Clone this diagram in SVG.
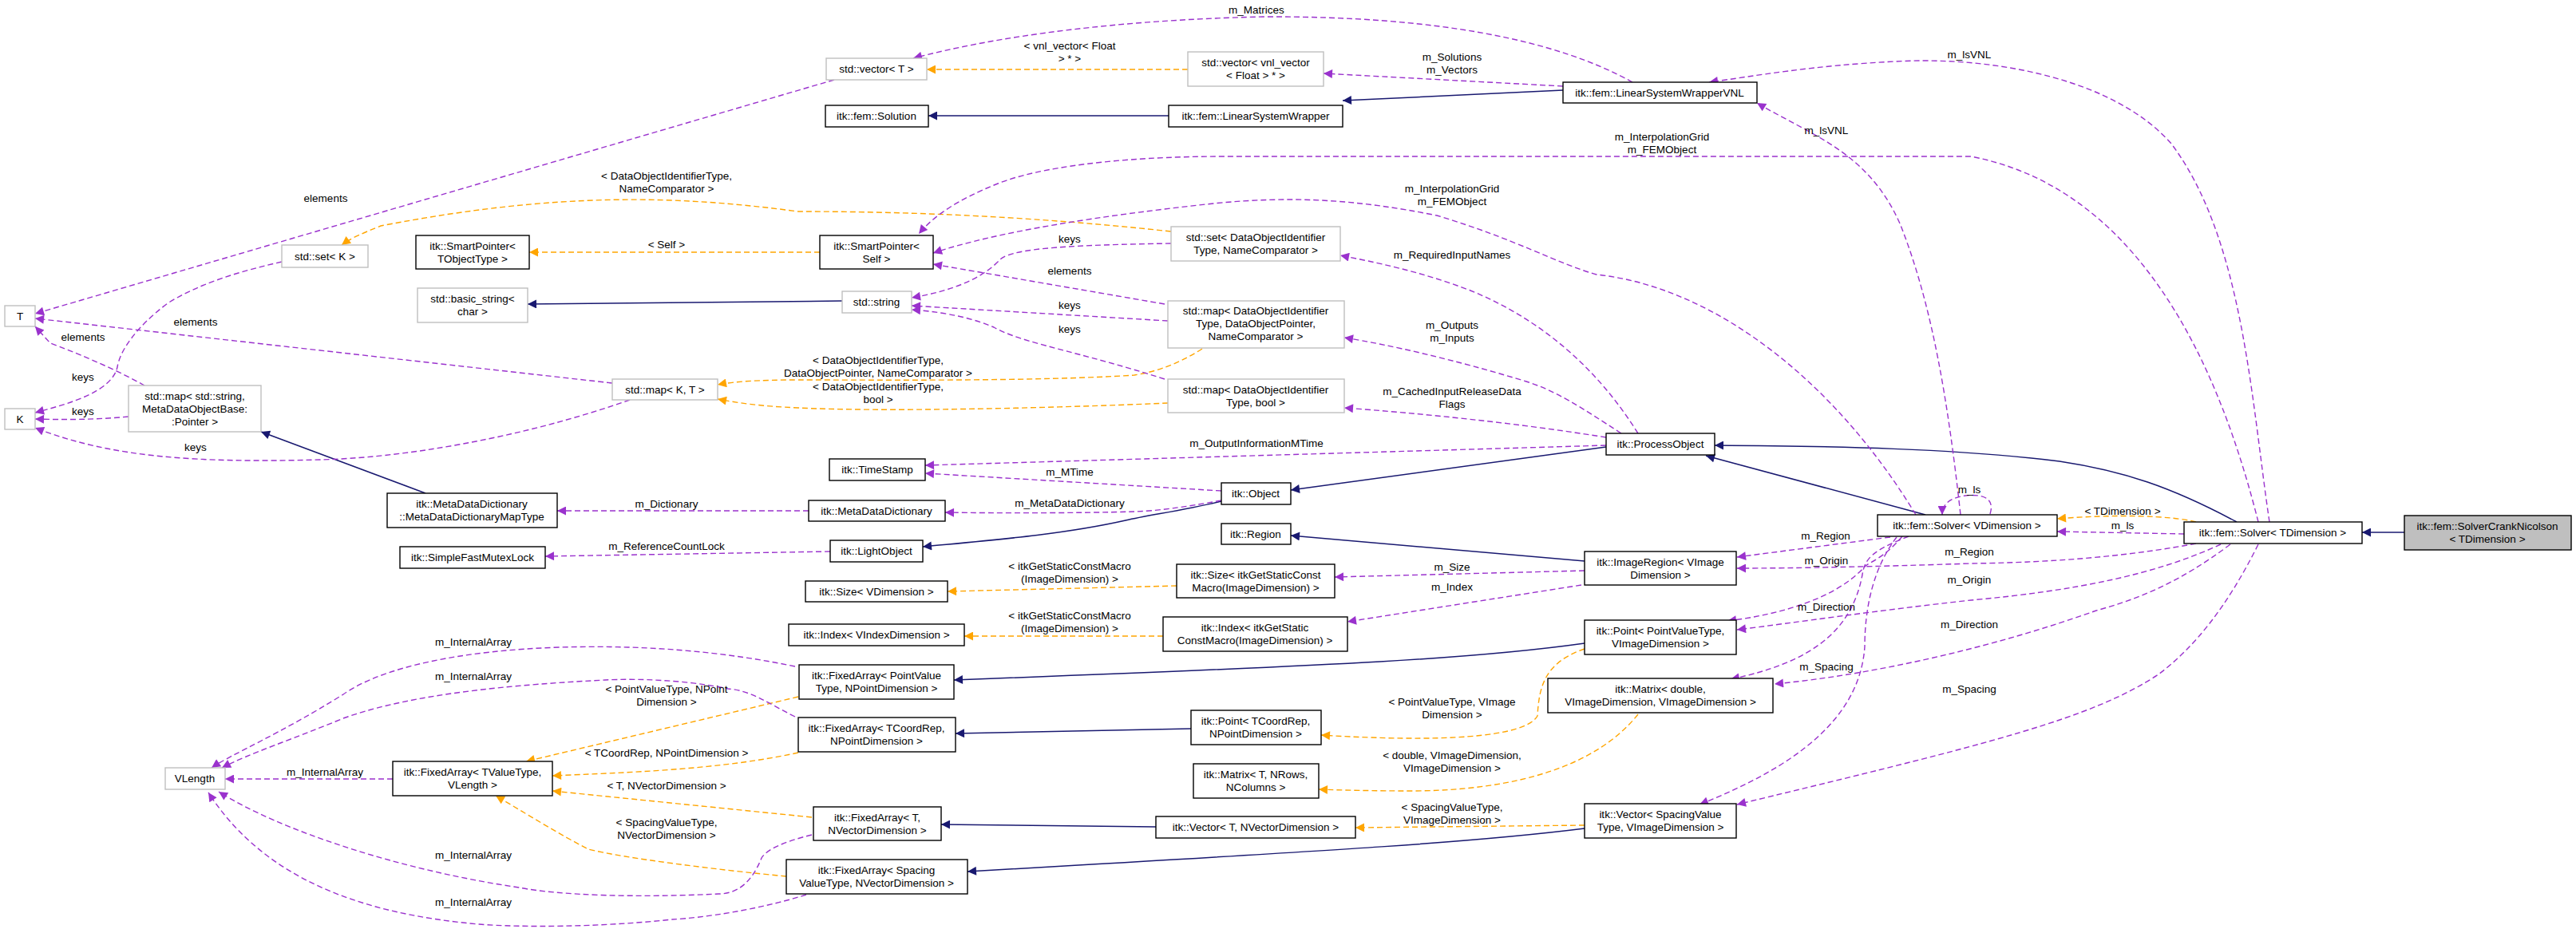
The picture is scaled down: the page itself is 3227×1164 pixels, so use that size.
<svg xmlns="http://www.w3.org/2000/svg" width="3227" height="1164" viewBox="0 0 3227 1164">
<style>
text{font-family:"Liberation Sans",Arial,sans-serif;font-size:13.5px;fill:#000;text-anchor:middle}
.g rect{fill:#fff;stroke:#bfbfbf;stroke-width:1.4}
.b rect{fill:#fff;stroke:#000;stroke-width:1.4}
.cn rect{fill:#bfbfbf;stroke:#000;stroke-width:1.4}
.n{fill:none;stroke:#191970;stroke-width:1.5;marker-end:url(#an)}
.p{fill:none;stroke:#9a32cd;stroke-width:1.4;stroke-dasharray:7,4;marker-end:url(#ap)}
.o{fill:none;stroke:#ffa500;stroke-width:1.4;stroke-dasharray:7,4;marker-end:url(#ao)}
</style>
<defs>
<marker id="an" viewBox="0 0 10 10" refX="10" refY="5" markerWidth="15" markerHeight="11" markerUnits="userSpaceOnUse" orient="auto"><path d="M0,0L10,5L0,10z" fill="#191970"/></marker>
<marker id="ap" viewBox="0 0 10 10" refX="10" refY="5" markerWidth="15" markerHeight="11" markerUnits="userSpaceOnUse" orient="auto"><path d="M0,0L10,5L0,10z" fill="#9a32cd"/></marker>
<marker id="ao" viewBox="0 0 10 10" refX="10" refY="5" markerWidth="15" markerHeight="11" markerUnits="userSpaceOnUse" orient="auto"><path d="M0,0L10,5L0,10z" fill="#ffa500"/></marker>
</defs>
<rect width="3227" height="1164" fill="#fff"/>
<g id="edges">
<path class="n" d="M1464,145L1163,145"/>
<path class="n" d="M1958,113L1682,126"/>
<path class="n" d="M1055,377L661,381"/>
<path class="n" d="M533,618L327,541"/>
<path class="n" d="M2012,560L1617,614"/>
<path class="n" d="M1530,628C1480,640 1440,645 1410,652C1330,670 1240,677 1156,685"/>
<path class="n" d="M1985,703L1617,671"/>
<path class="n" d="M1985,806C1850,825 1700,833 1195,852"/>
<path class="n" d="M1492,913L1197,919"/>
<path class="n" d="M1448,1036L1179,1033"/>
<path class="n" d="M1985,1038C1850,1055 1700,1064 1212,1092"/>
<path class="n" d="M2412,645L2137,571"/>
<path class="n" d="M2802,654C2720,610 2660,590 2580,578C2450,562 2300,559 2148,558"/>
<path class="n" d="M3012,667L2959,667"/>
<path class="o" d="M1488,87L1161,87"/>
<path class="o" d="M1467,290C1300,272 1150,265 1000,265C850,245 700,240 477,283C455,292 440,298 428,307"/>
<path class="o" d="M1027,316L663,316"/>
<path class="o" d="M1506,437C1470,460 1440,467 1421,470C1300,478 1100,476 1000,476C950,476 920,478 899,482"/>
<path class="o" d="M1463,505C1300,512 1100,516 1000,511C950,509 920,504 899,500"/>
<path class="o" d="M1474,734L1187,741"/>
<path class="o" d="M1457,797L1208,797"/>
<path class="o" d="M1985,813C1935,830 1928,860 1926,897C1910,925 1800,930 1655,921"/>
<path class="o" d="M2052,895C2000,960 1900,990 1772,991C1720,991 1680,990 1652,989"/>
<path class="o" d="M1985,1034L1698,1037"/>
<path class="o" d="M1000,873L659,954"/>
<path class="o" d="M1000,943C900,965 780,968 692,972"/>
<path class="o" d="M1017,1024L692,991"/>
<path class="o" d="M985,1098C900,1090 780,1075 737,1064C700,1045 660,1020 621,997"/>
<path class="o" d="M2751,654C2720,646 2650,644 2577,650"/>
<path class="p" d="M1045,100L44,393"/>
<path class="p" d="M353,328C300,340 250,355 210,380C170,410 150,440 147,460C140,490 90,505 44,517"/>
<path class="p" d="M767,480L44,399"/>
<path class="p" d="M181,483C140,460 90,440 63,430L44,409"/>
<path class="p" d="M161,522C120,526 80,526 44,525"/>
<path class="p" d="M789,501C650,550 500,574 400,576C250,580 140,574 44,536"/>
<path class="p" d="M1467,305C1350,307 1270,310 1253,325C1230,350 1190,365 1142,373"/>
<path class="p" d="M1459,381L1169,331"/>
<path class="p" d="M1463,402L1142,383"/>
<path class="p" d="M1459,475C1350,440 1280,430 1245,410C1210,395 1170,390 1142,388"/>
<path class="p" d="M2045,103C1950,50 1800,20 1582,21C1400,25 1250,45 1144,73"/>
<path class="p" d="M1958,108L1658,92"/>
<path class="p" d="M2843,654C2820,500 2810,300 2720,180C2650,100 2500,70 2375,77C2270,82 2200,95 2141,103"/>
<path class="p" d="M2456,645C2440,500 2420,380 2380,280C2340,190 2270,170 2201,129"/>
<path class="p" d="M2829,654C2790,500 2700,240 2469,196L2000,196L1533,196C1400,196 1300,210 1250,230C1200,250 1170,270 1151,293"/>
<path class="p" d="M2400,645C2300,480 2150,360 2000,344C1950,330 1900,300 1800,270C1700,250 1620,245 1520,255C1380,270 1250,290 1169,317"/>
<path class="p" d="M2052,543C2000,460 1930,400 1842,364C1780,340 1720,328 1679,320"/>
<path class="p" d="M2031,543C1980,510 1950,490 1912,478C1820,450 1740,432 1684,423"/>
<path class="p" d="M2012,548C1900,530 1780,518 1684,511"/>
<path class="p" d="M2012,558L1159,583"/>
<path class="p" d="M1530,615L1159,593"/>
<path class="p" d="M1530,627C1480,636 1450,640 1421,641C1350,643 1250,643 1184,642"/>
<path class="p" d="M1013,640L698,640"/>
<path class="p" d="M1040,691L683,697"/>
<path class="p" d="M1985,715L1672,723"/>
<path class="p" d="M1981,733L1688,779"/>
<path class="p" d="M996,835C900,815 800,808 701,811C580,815 480,835 430,870C350,920 290,945 265,962"/>
<path class="p" d="M996,898C960,880 940,865 912,863C860,852 800,850 758,852C600,860 500,875 430,900C370,925 310,945 278,962"/>
<path class="p" d="M492,976L282,976"/>
<path class="p" d="M1017,1046C980,1055 960,1065 954,1075C940,1110 920,1120 900,1120C800,1125 701,1122 650,1112C500,1090 350,1040 274,992"/>
<path class="p" d="M1010,1121C950,1140 880,1150 842,1152C750,1162 650,1162 600,1158C450,1145 330,1100 261,993"/>
<path class="p" d="M2493,644C2500,622 2480,619 2462,621C2442,624 2433,632 2433,645"/>
<path class="p" d="M2736,669L2577,666"/>
<path class="p" d="M2368,673L2176,698"/>
<path class="p" d="M2751,681C2650,700 2550,705 2469,706C2350,710 2250,712 2176,712"/>
<path class="p" d="M2383,672C2360,700 2340,705 2336,710C2300,750 2230,770 2164,778"/>
<path class="p" d="M2782,682C2700,720 2600,740 2469,752C2350,765 2250,780 2176,789"/>
<path class="p" d="M2391,672C2345,690 2336,700 2333,720C2320,790 2270,830 2168,851"/>
<path class="p" d="M2794,682C2730,730 2680,750 2626,765C2500,810 2350,845 2223,857"/>
<path class="p" d="M2376,673C2340,720 2336,780 2336,810C2330,900 2250,960 2129,1008"/>
<path class="p" d="M2829,682C2790,760 2750,810 2704,845C2620,900 2500,930 2176,1008"/>
</g>
<g id="edge-labels">
<text x="1340" y="62">&lt; vnl_vector&lt; Float</text><text x="1340" y="78">&gt; * &gt;</text>
<text x="835" y="225">&lt; DataObjectIdentifierType,</text><text x="835" y="241">NameComparator &gt;</text>
<text x="835" y="311">&lt; Self &gt;</text>
<text x="1100" y="456">&lt; DataObjectIdentifierType,</text><text x="1100" y="472">DataObjectPointer, NameComparator &gt;</text>
<text x="1100" y="489">&lt; DataObjectIdentifierType,</text><text x="1100" y="505">bool &gt;</text>
<text x="1340" y="714">&lt; itkGetStaticConstMacro</text><text x="1340" y="730">(ImageDimension) &gt;</text>
<text x="1340" y="776">&lt; itkGetStaticConstMacro</text><text x="1340" y="792">(ImageDimension) &gt;</text>
<text x="1819" y="884">&lt; PointValueType, VImage</text><text x="1819" y="900">Dimension &gt;</text>
<text x="1819" y="951">&lt; double, VImageDimension,</text><text x="1819" y="967">VImageDimension &gt;</text>
<text x="1819" y="1016">&lt; SpacingValueType,</text><text x="1819" y="1032">VImageDimension &gt;</text>
<text x="835" y="868">&lt; PointValueType, NPoint</text><text x="835" y="884">Dimension &gt;</text>
<text x="835" y="948">&lt; TCoordRep, NPointDimension &gt;</text>
<text x="835" y="989">&lt; T, NVectorDimension &gt;</text>
<text x="835" y="1035">&lt; SpacingValueType,</text><text x="835" y="1051">NVectorDimension &gt;</text>
<text x="2659" y="645">&lt; TDimension &gt;</text>
<text x="408" y="253">elements</text>
<text x="104" y="477">keys</text>
<text x="245" y="408">elements</text>
<text x="104" y="427">elements</text>
<text x="104" y="520">keys</text>
<text x="245" y="565">keys</text>
<text x="1340" y="304">keys</text>
<text x="1340" y="344">elements</text>
<text x="1340" y="387">keys</text>
<text x="1340" y="417">keys</text>
<text x="1574" y="17">m_Matrices</text>
<text x="1819" y="76">m_Solutions</text><text x="1819" y="92">m_Vectors</text>
<text x="2467" y="73">m_lsVNL</text>
<text x="2288" y="168">m_lsVNL</text>
<text x="2082" y="176">m_InterpolationGrid</text><text x="2082" y="192">m_FEMObject</text>
<text x="1819" y="241">m_InterpolationGrid</text><text x="1819" y="257">m_FEMObject</text>
<text x="1819" y="324">m_RequiredInputNames</text>
<text x="1819" y="412">m_Outputs</text><text x="1819" y="428">m_Inputs</text>
<text x="1819" y="495">m_CachedInputReleaseData</text><text x="1819" y="511">Flags</text>
<text x="1574" y="560">m_OutputInformationMTime</text>
<text x="1340" y="596">m_MTime</text>
<text x="1340" y="635">m_MetaDataDictionary</text>
<text x="835" y="636">m_Dictionary</text>
<text x="835" y="689">m_ReferenceCountLock</text>
<text x="1819" y="715">m_Size</text>
<text x="1819" y="740">m_Index</text>
<text x="593" y="809">m_InternalArray</text>
<text x="593" y="852">m_InternalArray</text>
<text x="407" y="972">m_InternalArray</text>
<text x="593" y="1076">m_InternalArray</text>
<text x="593" y="1135">m_InternalArray</text>
<text x="2467" y="618">m_ls</text>
<text x="2659" y="663">m_ls</text>
<text x="2287" y="676">m_Region</text>
<text x="2467" y="696">m_Region</text>
<text x="2288" y="707">m_Origin</text>
<text x="2467" y="731">m_Origin</text>
<text x="2288" y="765">m_Direction</text>
<text x="2467" y="787">m_Direction</text>
<text x="2288" y="840">m_Spacing</text>
<text x="2467" y="868">m_Spacing</text>
</g>
<g id="n_T" class="g"><rect x="6" y="383" width="38" height="26"/><text x="25" y="401">T</text></g>
<g id="n_K" class="g"><rect x="6" y="512" width="38" height="26"/><text x="25" y="530">K</text></g>
<g id="n_setK" class="g"><rect x="353" y="307" width="108" height="28"/><text x="407" y="326">std::set&lt; K &gt;</text></g>
<g id="n_spTO" class="b"><rect x="521" y="295" width="142" height="42"/><text x="592" y="313">itk::SmartPointer&lt;</text><text x="592" y="329">TObjectType &gt;</text></g>
<g id="n_bstr" class="g"><rect x="523" y="361" width="138" height="43"/><text x="592" y="379">std::basic_string&lt;</text><text x="592" y="395">char &gt;</text></g>
<g id="n_mapStr" class="g"><rect x="161" y="483" width="166" height="58"/><text x="244" y="501">std::map&lt; std::string,</text><text x="244" y="517">MetaDataObjectBase:</text><text x="244" y="533">:Pointer &gt;</text></g>
<g id="n_mapKT" class="g"><rect x="767" y="475" width="132" height="26"/><text x="833" y="493">std::map&lt; K, T &gt;</text></g>
<g id="n_vecT" class="g"><rect x="1035" y="73" width="126" height="27"/><text x="1098" y="91">std::vector&lt; T &gt;</text></g>
<g id="n_vecvnl" class="g"><rect x="1488" y="65" width="170" height="43"/><text x="1573" y="83">std::vector&lt; vnl_vector</text><text x="1573" y="99">&lt; Float &gt; * &gt;</text></g>
<g id="n_sol" class="b"><rect x="1034" y="132" width="129" height="27"/><text x="1098" y="150">itk::fem::Solution</text></g>
<g id="n_lsw" class="b"><rect x="1464" y="132" width="218" height="27"/><text x="1573" y="150">itk::fem::LinearSystemWrapper</text></g>
<g id="n_lswvnl" class="b"><rect x="1958" y="103" width="243" height="26"/><text x="2079" y="121">itk::fem::LinearSystemWrapperVNL</text></g>
<g id="n_spSelf" class="b"><rect x="1027" y="295" width="142" height="42"/><text x="1098" y="313">itk::SmartPointer&lt;</text><text x="1098" y="329">Self &gt;</text></g>
<g id="n_setDO" class="g"><rect x="1467" y="284" width="212" height="43"/><text x="1573" y="302">std::set&lt; DataObjectIdentifier</text><text x="1573" y="318">Type, NameComparator &gt;</text></g>
<g id="n_str" class="g"><rect x="1055" y="365" width="87" height="27"/><text x="1098" y="383">std::string</text></g>
<g id="n_mapDO" class="g"><rect x="1463" y="377" width="221" height="59"/><text x="1573" y="394">std::map&lt; DataObjectIdentifier</text><text x="1573" y="410">Type, DataObjectPointer,</text><text x="1573" y="426">NameComparator &gt;</text></g>
<g id="n_mapBool" class="g"><rect x="1463" y="475" width="221" height="42"/><text x="1573" y="493">std::map&lt; DataObjectIdentifier</text><text x="1573" y="509">Type, bool &gt;</text></g>
<g id="n_po" class="b"><rect x="2012" y="543" width="136" height="27"/><text x="2080" y="561">itk::ProcessObject</text></g>
<g id="n_ts" class="b"><rect x="1039" y="575" width="120" height="27"/><text x="1099" y="593">itk::TimeStamp</text></g>
<g id="n_obj" class="b"><rect x="1530" y="605" width="87" height="27"/><text x="1573" y="623">itk::Object</text></g>
<g id="n_mdd" class="b"><rect x="1013" y="627" width="171" height="26"/><text x="1098" y="645">itk::MetaDataDictionary</text></g>
<g id="n_lo" class="b"><rect x="1040" y="677" width="116" height="27"/><text x="1098" y="695">itk::LightObject</text></g>
<g id="n_reg" class="b"><rect x="1530" y="656" width="87" height="26"/><text x="1573" y="674">itk::Region</text></g>
<g id="n_ir" class="b"><rect x="1985" y="691" width="190" height="42"/><text x="2080" y="709">itk::ImageRegion&lt; VImage</text><text x="2080" y="725">Dimension &gt;</text></g>
<g id="n_sizeV" class="b"><rect x="1009" y="728" width="178" height="26"/><text x="1098" y="746">itk::Size&lt; VDimension &gt;</text></g>
<g id="n_sizeM" class="b"><rect x="1474" y="707" width="198" height="42"/><text x="1573" y="725">itk::Size&lt; itkGetStaticConst</text><text x="1573" y="741">Macro(ImageDimension) &gt;</text></g>
<g id="n_idxV" class="b"><rect x="988" y="782" width="220" height="27"/><text x="1098" y="800">itk::Index&lt; VIndexDimension &gt;</text></g>
<g id="n_idxM" class="b"><rect x="1457" y="773" width="231" height="43"/><text x="1572" y="791">itk::Index&lt; itkGetStatic</text><text x="1572" y="807">ConstMacro(ImageDimension) &gt;</text></g>
<g id="n_ptPV" class="b"><rect x="1985" y="777" width="190" height="43"/><text x="2080" y="795">itk::Point&lt; PointValueType,</text><text x="2080" y="811">VImageDimension &gt;</text></g>
<g id="n_faPV" class="b"><rect x="1001" y="833" width="194" height="43"/><text x="1098" y="851">itk::FixedArray&lt; PointValue</text><text x="1098" y="867">Type, NPointDimension &gt;</text></g>
<g id="n_mat" class="b"><rect x="1939" y="850" width="282" height="43"/><text x="2080" y="868">itk::Matrix&lt; double,</text><text x="2080" y="884">VImageDimension, VImageDimension &gt;</text></g>
<g id="n_ptTC" class="b"><rect x="1492" y="890" width="163" height="43"/><text x="1573" y="908">itk::Point&lt; TCoordRep,</text><text x="1573" y="924">NPointDimension &gt;</text></g>
<g id="n_faTC" class="b"><rect x="1000" y="899" width="197" height="43"/><text x="1098" y="917">itk::FixedArray&lt; TCoordRep,</text><text x="1098" y="933">NPointDimension &gt;</text></g>
<g id="n_matT" class="b"><rect x="1495" y="957" width="157" height="43"/><text x="1573" y="975">itk::Matrix&lt; T, NRows,</text><text x="1573" y="991">NColumns &gt;</text></g>
<g id="n_faT" class="b"><rect x="1019" y="1011" width="160" height="42"/><text x="1099" y="1029">itk::FixedArray&lt; T,</text><text x="1099" y="1045">NVectorDimension &gt;</text></g>
<g id="n_vecTN" class="b"><rect x="1448" y="1023" width="250" height="27"/><text x="1573" y="1041">itk::Vector&lt; T, NVectorDimension &gt;</text></g>
<g id="n_vecSp" class="b"><rect x="1985" y="1007" width="190" height="43"/><text x="2080" y="1025">itk::Vector&lt; SpacingValue</text><text x="2080" y="1041">Type, VImageDimension &gt;</text></g>
<g id="n_faSp" class="b"><rect x="985" y="1077" width="227" height="43"/><text x="1098" y="1095">itk::FixedArray&lt; Spacing</text><text x="1098" y="1111">ValueType, NVectorDimension &gt;</text></g>
<g id="n_mapType" class="b"><rect x="485" y="618" width="213" height="43"/><text x="591" y="636">itk::MetaDataDictionary</text><text x="591" y="652">::MetaDataDictionaryMapType</text></g>
<g id="n_mutex" class="b"><rect x="501" y="685" width="182" height="27"/><text x="592" y="703">itk::SimpleFastMutexLock</text></g>
<g id="n_vl" class="g"><rect x="207" y="962" width="75" height="27"/><text x="244" y="980">VLength</text></g>
<g id="n_faTV" class="b"><rect x="492" y="954" width="200" height="43"/><text x="592" y="972">itk::FixedArray&lt; TValueType,</text><text x="592" y="988">VLength &gt;</text></g>
<g id="n_solV" class="b"><rect x="2352" y="645" width="225" height="27"/><text x="2464" y="663">itk::fem::Solver&lt; VDimension &gt;</text></g>
<g id="n_solT" class="b"><rect x="2736" y="654" width="223" height="27"/><text x="2847" y="672">itk::fem::Solver&lt; TDimension &gt;</text></g>
<g id="n_cn" class="cn"><rect x="3012" y="646" width="209" height="43"/><text x="3116" y="664">itk::fem::SolverCrankNicolson</text><text x="3116" y="680">&lt; TDimension &gt;</text></g>
</svg>
